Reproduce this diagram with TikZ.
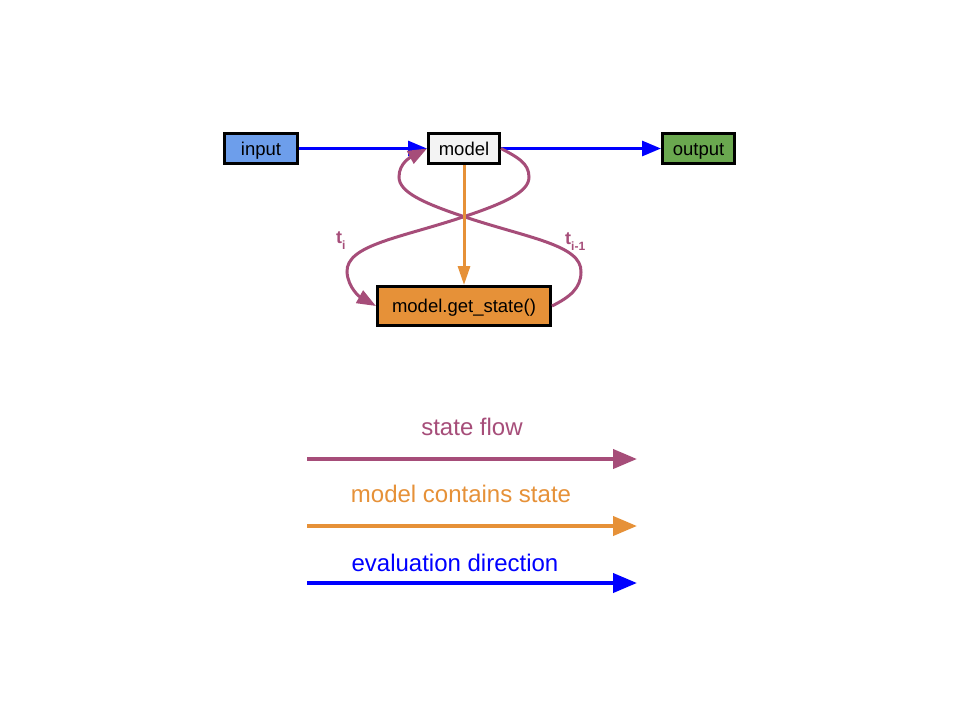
\documentclass[tikz,border=0pt]{standalone}
\usepackage{fontspec}
\setmainfont{Liberation Sans}
\usetikzlibrary{arrows.meta}
\definecolor{sflow}{HTML}{A64D79}
\definecolor{cstate}{HTML}{E69138}
\definecolor{evdir}{HTML}{0000FF}
\definecolor{infill}{HTML}{6D9EEB}
\definecolor{outfill}{HTML}{6AA84F}
\definecolor{modfill}{HTML}{F3F3F3}
\begin{document}
\begin{tikzpicture}[x=1pt,y=-1pt,
  box/.style={draw=black,line width=3pt,inner sep=0pt,text height=13pt,text depth=0pt,font=\fontsize{18.5}{20}\selectfont},
  evarrow/.style={draw=evdir,line width=3pt,-{Triangle[length=19pt,width=15pt]}},
  starrow/.style={draw=cstate,line width=3pt,-{Triangle[length=19pt,width=12pt]}},
  flarrow/.style={draw=sflow,line width=3pt,-{Triangle[length=19pt,width=14pt]}},
  legarrow/.style={line width=4pt,-{Triangle[length=24pt,width=19pt]}},
  legtext/.style={font=\fontsize{24}{28}\selectfont,inner sep=0pt},
  tlabel/.style={text=sflow,font=\fontsize{18}{20}\selectfont\bfseries,inner sep=0pt,anchor=base west}]
\useasboundingbox (0,0) rectangle (960,720);
\fill[white] (0,0) rectangle (960,720);

\node[box,fill=infill,minimum width=73pt,minimum height=30pt] (input) at (261,148.5) {input};
\node[box,fill=modfill,minimum width=71pt,minimum height=30pt] (model) at (464,148.5) {model};
\node[box,fill=outfill,minimum width=72pt,minimum height=30pt] (output) at (698.5,148.5) {output};
\node[box,fill=cstate,minimum width=173pt,minimum height=39pt] (gs) at (464,306) {model.get\_state()};

\draw[evarrow] (input.east) -- (model.west);
\draw[evarrow] (model.east) -- (output.west);

% state flow curves
\draw[flarrow] (model.east) .. controls (517,157) and (529,163) .. (529,177)
  .. controls (529,192) and (505,203) .. (463,217)
  .. controls (400,238) and (346,245) .. (347,272)
  .. controls (348,288) and (360,297) .. (gs.west);
\draw[flarrow] (gs.east) .. controls (570,297) and (581,288) .. (581,272)
  .. controls (582,245) and (528,238) .. (465,217)
  .. controls (423,203) and (399,192) .. (399,177)
  .. controls (399,163) and (411,157) .. (model.west);

\draw[starrow] (model.south) -- (gs.north);

\node[tlabel] (ti) at (336,243) {t\raisebox{-6pt}{\fontsize{12}{12}\selectfont i}};
\node[tlabel] (tim) at (565,244) {t\raisebox{-6pt}{\fontsize{12}{12}\selectfont i-1}};

% legend
\node[legtext,text=sflow] (l1t) at (472,427) {state flow};
\coordinate (l1s) at (307,459);
\coordinate (l1e) at (637,459);
\draw[legarrow,draw=sflow] (l1s) -- (l1e);

\node[legtext,text=cstate] (l2t) at (461,494) {model contains state};
\coordinate (l2s) at (307,526);
\coordinate (l2e) at (637,526);
\draw[legarrow,draw=cstate] (l2s) -- (l2e);

\node[legtext,text=evdir] (l3t) at (455,563) {evaluation direction};
\coordinate (l3s) at (307,583);
\coordinate (l3e) at (637,583);
\draw[legarrow,draw=evdir] (l3s) -- (l3e);
\end{tikzpicture}
\end{document}
